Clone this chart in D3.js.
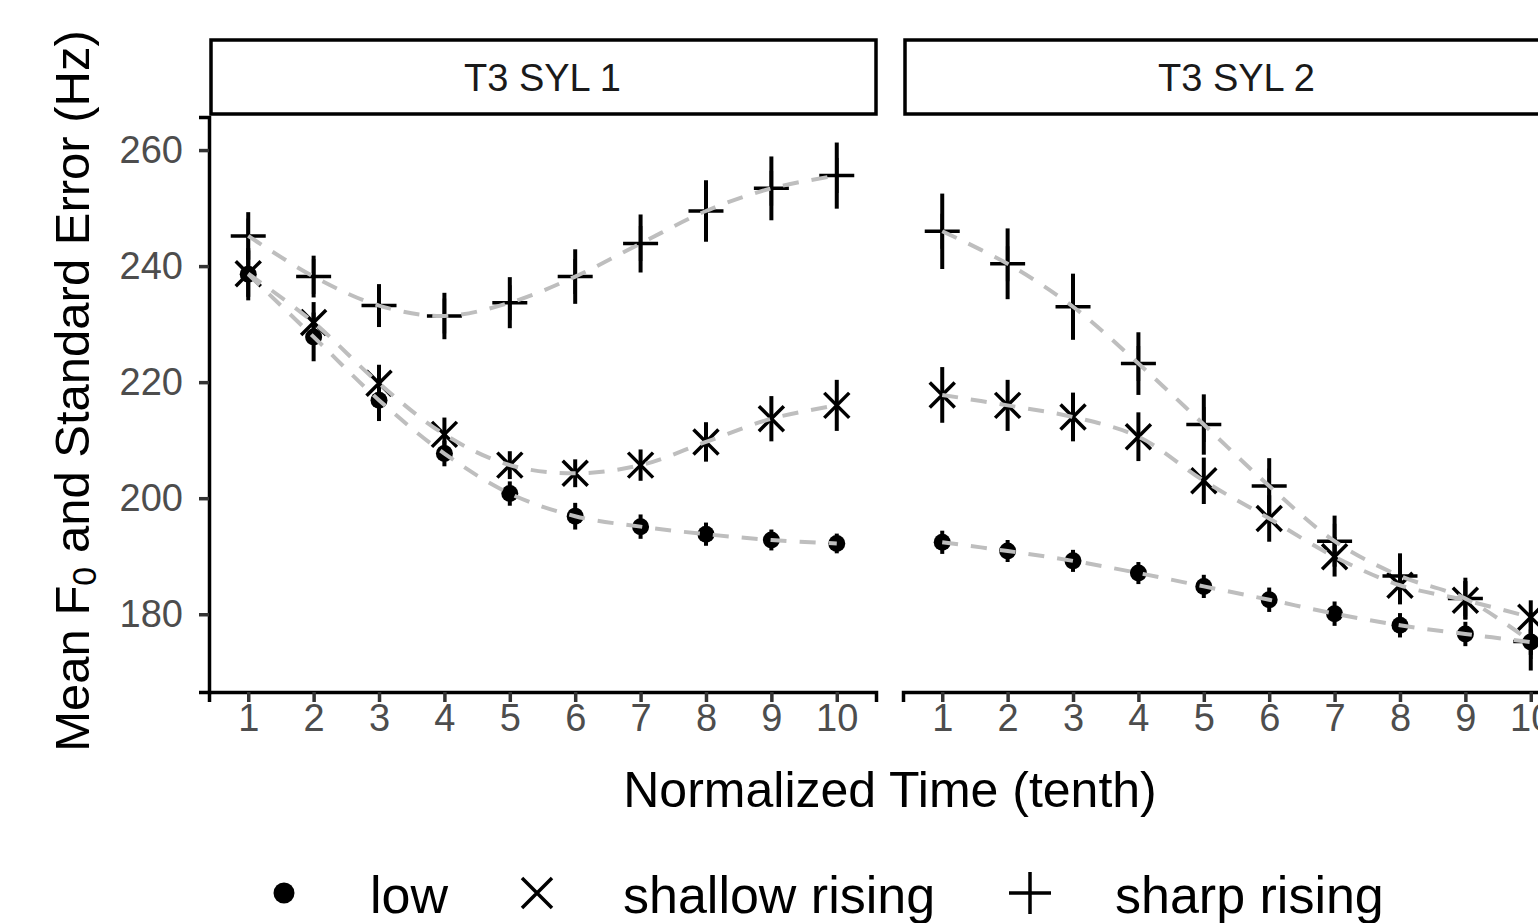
<!DOCTYPE html>
<html>
<head>
    <meta charset="utf-8">
    <title>T3 F0 contours</title>
    <script src="https://cdnjs.cloudflare.com/ajax/libs/d3/7.8.5/d3.min.js"></script>
    <style>
        body { margin: 0; background: #fff; overflow: hidden; }
        svg { display: block; font-family: "Liberation Sans", Arial, sans-serif; }
    </style>
</head>
<body>
    <svg id="chart" width="1538" height="923"></svg>

    <script>
        // Datos
        const times = [1, 2, 3, 4, 5, 6, 7, 8, 9, 10];
        const panels = ["T3 SYL 1", "T3 SYL 2"];
        const yTicks = [180, 200, 220, 240, 260];

        const syl1Low = [238.6, 227.8, 216.9, 207.7, 200.8, 196.9, 195.1, 193.8, 192.8, 192.2];
        const syl1LowSe = [4.5, 4.2, 3.6, 2.2, 2.1, 2.3, 2.1, 2.0, 1.8, 1.7];
        const syl1Shallow = [238.7, 230.3, 219.8, 211.0, 205.7, 204.3, 205.7, 209.7, 213.7, 216.0];
        const syl1ShallowSe = [4.0, 3.5, 3.2, 2.9, 2.4, 2.4, 2.7, 3.4, 3.9, 4.4];
        const syl1Sharp = [245.2, 238.2, 233.2, 231.4, 233.7, 238.2, 243.9, 249.5, 253.4, 255.6];
        const syl1SharpSe = [4.1, 3.6, 3.7, 4.0, 4.4, 4.7, 5.0, 5.3, 5.5, 5.7];

        const syl2Low = [192.4, 190.9, 189.2, 187.1, 184.8, 182.5, 180.1, 178.1, 176.6, 175.2];
        const syl2LowSe = [2.0, 1.9, 1.9, 1.9, 2.0, 2.1, 2.1, 2.1, 2.1, 2.2];
        const syl2Shallow = [217.8, 216.0, 214.0, 210.6, 203.0, 196.5, 189.9, 185.0, 182.4, 179.5];
        const syl2ShallowSe = [4.8, 4.4, 4.2, 4.2, 4.0, 4.0, 3.4, 3.3, 3.3, 2.9];
        const syl2Sharp = [246.0, 240.4, 233.0, 223.2, 212.7, 202.1, 192.6, 186.6, 182.7, 175.3];
        const syl2SharpSe = [6.5, 6.1, 5.7, 5.4, 5.2, 4.8, 4.4, 3.9, 3.6, 5.0];

        const groups = ["low", "shallow rising", "sharp rising"];
        const panelData = [
            [[syl1Low, syl1LowSe], [syl1Shallow, syl1ShallowSe], [syl1Sharp, syl1SharpSe]],
            [[syl2Low, syl2LowSe], [syl2Shallow, syl2ShallowSe], [syl2Sharp, syl2SharpSe]]
        ];

        // Layout
        const svg = d3.select("#chart");
        const panelW = 667;
        const panelTop = 117, panelBottom = 692;
        const panelLefts = [209, 903];
        const tickFont = 38;

        const x = d3.scaleLinear().domain([0.4, 10.6]).range([0, panelW]);
        const y = d3.scaleLinear().domain([166.6, 265.7]).range([panelBottom, panelTop]);

        // Forma de los marcadores
        function drawShape(g, shape, cx, cy, big) {
            if (shape === 0) {
                g.append("circle").attr("cx", cx).attr("cy", cy).attr("r", big ? 10.5 : 8.5).attr("fill", "#000");
            } else if (shape === 1) {
                const a = big ? 15 : 12.5;
                g.append("path")
                    .attr("d", `M${cx - a},${cy - a}L${cx + a},${cy + a}M${cx - a},${cy + a}L${cx + a},${cy - a}`)
                    .attr("stroke", "#000").attr("stroke-width", 3.5).attr("fill", "none");
            } else {
                const a = big ? 21 : 17.5;
                g.append("path")
                    .attr("d", `M${cx - a},${cy}L${cx + a},${cy}M${cx},${cy - a}L${cx},${cy + a}`)
                    .attr("stroke", "#000").attr("stroke-width", 3.5).attr("fill", "none");
            }
        }

        const clip = svg.append("defs");

        panels.forEach((label, p) => {
            const left = panelLefts[p];

            // Strip
            svg.append("rect")
                .attr("x", left + 2).attr("y", 40)
                .attr("width", panelW - 2).attr("height", 74)
                .attr("fill", "#fff").attr("stroke", "#000").attr("stroke-width", 3.5);
            svg.append("text")
                .attr("x", left + panelW / 2).attr("y", 78)
                .attr("text-anchor", "middle").attr("dominant-baseline", "central")
                .attr("font-size", tickFont).attr("fill", "#1a1a1a")
                .text(label);

            const g = svg.append("g").attr("transform", `translate(${left},0)`);

            clip.append("clipPath").attr("id", "clip" + p)
                .append("rect").attr("x", 0).attr("y", panelTop).attr("width", panelW).attr("height", panelBottom - panelTop);

            const plot = g.append("g").attr("clip-path", `url(#clip${p})`);

            // Barras de error
            panelData[p].forEach(([means, ses]) => {
                plot.selectAll(null)
                    .data(times)
                    .join("line")
                    .attr("x1", (d) => x(d)).attr("x2", (d) => x(d))
                    .attr("y1", (d, i) => y(means[i] + ses[i]))
                    .attr("y2", (d, i) => y(means[i] - ses[i]))
                    .attr("stroke", "#000").attr("stroke-width", 4);
            });

            // Puntos
            panelData[p].forEach(([means], s) => {
                times.forEach((t, i) => drawShape(plot, s, x(t), y(means[i]), false));
            });

            // Líneas discontinuas
            const line = d3.line()
                .x((d) => x(d[0]))
                .y((d) => y(d[1]))
                .curve(d3.curveCatmullRom);
            panelData[p].forEach(([means]) => {
                plot.append("path")
                    .datum(times.map((t, i) => [t, means[i]]))
                    .attr("fill", "none")
                    .attr("stroke", "#bebebe")
                    .attr("stroke-width", 4)
                    .attr("stroke-dasharray", "16,13")
                    .attr("d", line);
            });

            // Eje x
            const xAxis = g.append("g")
                .attr("transform", `translate(0,${panelBottom})`)
                .call(d3.axisBottom(x).tickValues(times).tickSize(10).tickPadding(2).tickFormat(d3.format("d")));
            xAxis.select(".domain").attr("stroke", "#000").attr("stroke-width", 3.5);
            xAxis.selectAll(".tick line").attr("stroke", "#333").attr("stroke-width", 3.5);
            xAxis.selectAll(".tick text").attr("font-size", tickFont).attr("fill", "#4d4d4d")
                .attr("font-family", "Liberation Sans, Arial, sans-serif");
        });

        // Eje y
        const yAxis = svg.append("g")
            .attr("transform", `translate(${panelLefts[0]},0)`)
            .call(d3.axisLeft(y).tickValues(yTicks).tickSize(10).tickPadding(16));
        yAxis.select(".domain").attr("stroke", "#000").attr("stroke-width", 3.5);
        yAxis.selectAll(".tick line").attr("stroke", "#333").attr("stroke-width", 3.5);
        yAxis.selectAll(".tick text").attr("font-size", tickFont).attr("fill", "#4d4d4d")
            .attr("font-family", "Liberation Sans, Arial, sans-serif");

        // Títulos
        svg.append("text")
            .attr("x", 890).attr("y", 790)
            .attr("text-anchor", "middle").attr("dominant-baseline", "central")
            .attr("font-size", 50).attr("fill", "#000")
            .text("Normalized Time (tenth)");

        const yTitle = svg.append("text")
            .attr("transform", `translate(72,391) rotate(-90)`)
            .attr("text-anchor", "middle").attr("dominant-baseline", "central")
            .attr("font-size", 49).attr("fill", "#000");
        yTitle.append("tspan").text("Mean F");
        yTitle.append("tspan").attr("font-size", 34).attr("dy", 12).text("0");
        yTitle.append("tspan").attr("dy", -12).text(" and Standard Error (Hz)");

        // Leyenda
        const legendX = [284, 537, 1030];
        const legendTextX = [370, 623, 1115];
        groups.forEach((name, s) => {
            drawShape(svg, s, legendX[s], 893, true);
            svg.append("text")
                .attr("x", legendTextX[s]).attr("y", 895)
                .attr("dominant-baseline", "central")
                .attr("font-size", 52).attr("fill", "#000")
                .text(name);
        });
    </script>
</body>
</html>
